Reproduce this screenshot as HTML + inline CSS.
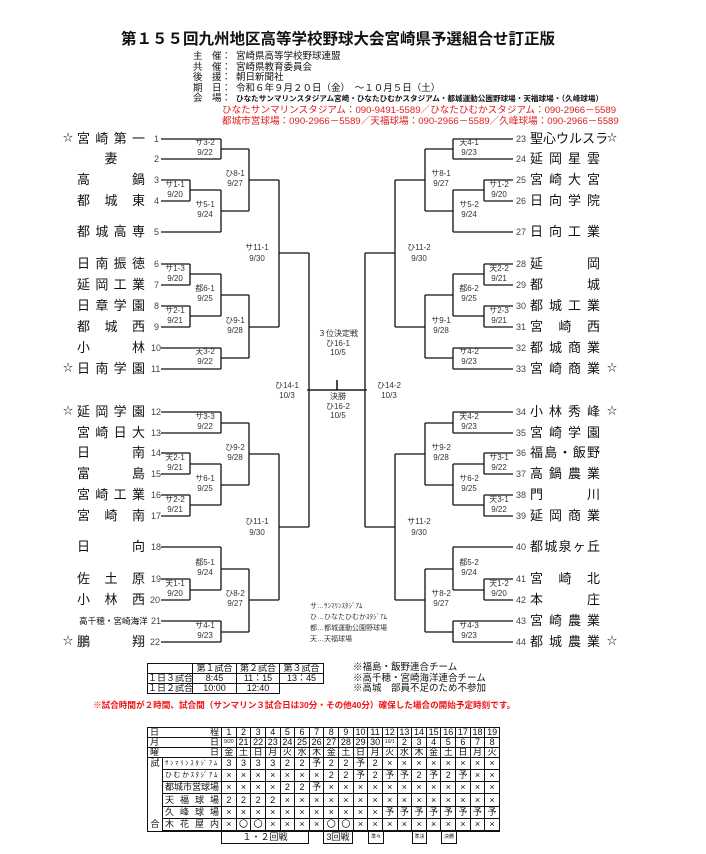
<!DOCTYPE html>
<html><head><meta charset="utf-8"><style>
*{margin:0;padding:0;box-sizing:border-box}
body{width:706px;height:854px;background:#fff;position:relative;overflow:hidden;font-family:"Liberation Sans","Noto Sans CJK JP",sans-serif;color:#111}
.a{position:absolute;white-space:nowrap}
.nm{position:absolute;height:16px;display:flex;justify-content:space-between;align-items:center;font-size:13px;line-height:16px;color:#111}
.no{position:absolute;font-size:9px;color:#444;line-height:10px}
.st{position:absolute;font-size:10px;line-height:12px}
table{border-collapse:collapse;table-layout:fixed;position:absolute}
td{border:1px solid #111;padding:0;text-align:center;font-size:9px;line-height:9px;overflow:hidden;white-space:nowrap}
.j{text-align:justify;text-align-last:justify;padding:0 2px}
.bx{position:absolute;border:1px solid #111;border-top:none;font-size:9px;text-align:center;line-height:10px}
</style></head><body>

<div class="a" style="left:121px;top:27px;font-size:15.5px;font-weight:bold;letter-spacing:0px">第１５５回九州地区高等学校野球大会宮崎県予選組合せ訂正版</div>
<div class="a" style="left:193px;top:52px;font-size:9.5px;line-height:10.6px">主　催：<br>共　催：<br>後　援：<br>期　日：<br>会　場：</div>
<div class="a" style="left:236px;top:52px;font-size:9.5px;line-height:10.6px">宮崎県高等学校野球連盟<br>宮崎県教育委員会<br>朝日新聞社<br>令和６年９月２０日（金）　～１０月５日（土）<br><b style="font-size:7.6px">ひなたサンマリンスタジアム宮崎・ひなたひむかスタジアム・都城運動公園野球場・天福球場・（久峰球場）</b></div>
<div class="a" style="left:222px;top:105px;font-size:9.6px;line-height:11px;color:#e02020">ひなたサンマリンスタジアム：090-9491-5589／ひなたひむかスタジアム：090-2966－5589<br>都城市営球場：090-2966－5589／天福球場：090-2966－5589／久峰球場：090-2966－5589</div>

<svg class="a" style="left:0;top:0" width="706" height="854" viewBox="0 0 706 854">
<g stroke="#111" stroke-width="1.3" fill="none">
<path id="L" d="M161 139H221M161 159H221M161 180H190M161 201H190M161 232H221M161 264H190M161 285H190M161 306H190M161 327H190M161 348H221M161 369H221
M161 412H221M161 433H221M161 453H190M161 474H190M161 495H190M161 516H190M161 547H221M161 579H190M161 600H190M161 621H221M161 642H221
M190 180V201M190 264V285M190 306V327M190 453V474M190 495V516M190 579V600
M190 190H221M190 274H221M190 316H221M190 464H221M190 505H221M190 590H221
M221 139V159M221 190V232M221 274V316M221 348V369M221 412V433M221 464V505M221 547V590M221 621V642
M221 149H249M221 211H249M221 295H249M221 358H249M221 423H249M221 485H249M221 569H249M221 632H249
M249 149V211M249 295V358M249 423V485M249 569V632
M249 180H279M249 327H279M249 454H279M249 600H279
M279 180V327M279 454V600M279 253H309M279 527H309M309 253V527M309 390H367M337 380V390"/>
<use href="#L" transform="translate(674,0) scale(-1,1)"/>
</g>
<g font-size="8" fill="#333" text-anchor="middle" font-family="Liberation Sans, Noto Sans CJK JP, sans-serif">
<text x="175" y="187">サ1-1</text><text x="175" y="197">9/20</text>
<text x="175" y="271">サ1-3</text><text x="175" y="281">9/20</text>
<text x="175" y="313">サ2-1</text><text x="175" y="323">9/21</text>
<text x="175" y="460">天2-1</text><text x="175" y="470">9/21</text>
<text x="175" y="502">サ2-2</text><text x="175" y="512">9/21</text>
<text x="175" y="586">天1-1</text><text x="175" y="596">9/20</text>
<text x="205" y="145">サ3-2</text><text x="205" y="155">9/22</text>
<text x="205" y="207">サ5-1</text><text x="205" y="217">9/24</text>
<text x="205" y="291">都6-1</text><text x="205" y="301">9/25</text>
<text x="205" y="354">天3-2</text><text x="205" y="364">9/22</text>
<text x="205" y="419">サ3-3</text><text x="205" y="429">9/22</text>
<text x="205" y="481">サ6-1</text><text x="205" y="491">9/25</text>
<text x="205" y="565">都5-1</text><text x="205" y="575">9/24</text>
<text x="205" y="628">サ4-1</text><text x="205" y="638">9/23</text>
<text x="235" y="176">ひ8-1</text><text x="235" y="186">9/27</text>
<text x="235" y="323">ひ9-1</text><text x="235" y="333">9/28</text>
<text x="235" y="450">ひ9-2</text><text x="235" y="460">9/28</text>
<text x="235" y="596">ひ8-2</text><text x="235" y="606">9/27</text>
<text x="257" y="250">サ11-1</text><text x="257" y="261">9/30</text>
<text x="257" y="524">ひ11-1</text><text x="257" y="535">9/30</text>
<text x="287" y="388">ひ14-1</text><text x="287" y="398">10/3</text>
<text x="389" y="388">ひ14-2</text><text x="389" y="398">10/3</text>
<text x="338" y="336">３位決定戦</text><text x="338" y="346">ひ16-1</text><text x="338" y="355">10/5</text>
<text x="338" y="399">決勝</text><text x="338" y="409">ひ16-2</text><text x="338" y="418">10/5</text>
<text x="499" y="187">サ1-2</text><text x="499" y="197">9/20</text>
<text x="499" y="271">天2-2</text><text x="499" y="281">9/21</text>
<text x="499" y="313">サ2-3</text><text x="499" y="323">9/21</text>
<text x="499" y="460">サ3-1</text><text x="499" y="470">9/22</text>
<text x="499" y="502">天3-1</text><text x="499" y="512">9/22</text>
<text x="499" y="586">天1-2</text><text x="499" y="596">9/20</text>
<text x="469" y="145">天4-1</text><text x="469" y="155">9/23</text>
<text x="469" y="207">サ5-2</text><text x="469" y="217">9/24</text>
<text x="469" y="291">都6-2</text><text x="469" y="301">9/25</text>
<text x="469" y="354">サ4-2</text><text x="469" y="364">9/23</text>
<text x="469" y="419">天4-2</text><text x="469" y="429">9/23</text>
<text x="469" y="481">サ6-2</text><text x="469" y="491">9/25</text>
<text x="469" y="565">都5-2</text><text x="469" y="575">9/24</text>
<text x="469" y="628">サ4-3</text><text x="469" y="638">9/23</text>
<text x="441" y="176">サ8-1</text><text x="441" y="186">9/27</text>
<text x="441" y="323">サ9-1</text><text x="441" y="333">9/28</text>
<text x="441" y="450">サ9-2</text><text x="441" y="460">9/28</text>
<text x="441" y="596">サ8-2</text><text x="441" y="606">9/27</text>
<text x="419" y="250">ひ11-2</text><text x="419" y="261">9/30</text>
<text x="419" y="524">サ11-2</text><text x="419" y="535">9/30</text>
</g>
<g font-size="7" fill="#333" font-family="Liberation Sans, Noto Sans CJK JP, sans-serif">
<text x="310" y="608">サ…ｻﾝﾏﾘﾝｽﾀｼﾞｱﾑ</text>
<text x="310" y="619">ひ…ひなたひむかｽﾀｼﾞｱﾑ</text>
<text x="310" y="630">都…都城運動公園野球場</text>
<text x="310" y="641">天…天福球場</text>
</g>
</svg>

<!-- left names -->
<div class="st" style="left:63px;top:133px">☆</div><div class="nm" style="left:77px;top:131px;width:68px"><span>宮</span><span>崎</span><span>第</span><span>一</span></div><div class="no" style="left:154px;top:134px">1</div>
<div class="nm" style="left:77px;top:151px;width:68px;justify-content:center"><span>妻</span></div><div class="no" style="left:154px;top:154px">2</div>
<div class="nm" style="left:77px;top:172px;width:68px"><span>高</span><span>鍋</span></div><div class="no" style="left:154px;top:175px">3</div>
<div class="nm" style="left:77px;top:193px;width:68px"><span>都</span><span>城</span><span>東</span></div><div class="no" style="left:154px;top:196px">4</div>
<div class="nm" style="left:77px;top:224px;width:68px"><span>都</span><span>城</span><span>高</span><span>専</span></div><div class="no" style="left:154px;top:227px">5</div>
<div class="nm" style="left:77px;top:256px;width:68px"><span>日</span><span>南</span><span>振</span><span>徳</span></div><div class="no" style="left:154px;top:259px">6</div>
<div class="nm" style="left:77px;top:277px;width:68px"><span>延</span><span>岡</span><span>工</span><span>業</span></div><div class="no" style="left:154px;top:280px">7</div>
<div class="nm" style="left:77px;top:298px;width:68px"><span>日</span><span>章</span><span>学</span><span>園</span></div><div class="no" style="left:154px;top:301px">8</div>
<div class="nm" style="left:77px;top:319px;width:68px"><span>都</span><span>城</span><span>西</span></div><div class="no" style="left:154px;top:322px">9</div>
<div class="nm" style="left:77px;top:340px;width:68px"><span>小</span><span>林</span></div><div class="no" style="left:151px;top:343px">10</div>
<div class="st" style="left:63px;top:363px">☆</div><div class="nm" style="left:77px;top:361px;width:68px"><span>日</span><span>南</span><span>学</span><span>園</span></div><div class="no" style="left:151px;top:364px">11</div>
<div class="st" style="left:63px;top:406px">☆</div><div class="nm" style="left:77px;top:404px;width:68px"><span>延</span><span>岡</span><span>学</span><span>園</span></div><div class="no" style="left:151px;top:407px">12</div>
<div class="nm" style="left:77px;top:425px;width:68px"><span>宮</span><span>崎</span><span>日</span><span>大</span></div><div class="no" style="left:151px;top:428px">13</div>
<div class="nm" style="left:77px;top:445px;width:68px"><span>日</span><span>南</span></div><div class="no" style="left:151px;top:448px">14</div>
<div class="nm" style="left:77px;top:466px;width:68px"><span>富</span><span>島</span></div><div class="no" style="left:151px;top:469px">15</div>
<div class="nm" style="left:77px;top:487px;width:68px"><span>宮</span><span>崎</span><span>工</span><span>業</span></div><div class="no" style="left:151px;top:490px">16</div>
<div class="nm" style="left:77px;top:508px;width:68px"><span>宮</span><span>崎</span><span>南</span></div><div class="no" style="left:151px;top:511px">17</div>
<div class="nm" style="left:77px;top:539px;width:68px"><span>日</span><span>向</span></div><div class="no" style="left:151px;top:542px">18</div>
<div class="nm" style="left:77px;top:571px;width:68px"><span>佐</span><span>土</span><span>原</span></div><div class="no" style="left:151px;top:574px">19</div>
<div class="nm" style="left:77px;top:592px;width:68px"><span>小</span><span>林</span><span>西</span></div><div class="no" style="left:150px;top:595px">20</div>
<div class="a" style="left:79px;top:615px;font-size:8.6px;line-height:12px">高千穂・宮崎海洋</div><div class="no" style="left:151px;top:616px">21</div>
<div class="st" style="left:63px;top:636px">☆</div><div class="nm" style="left:77px;top:634px;width:68px"><span>鵬</span><span>翔</span></div><div class="no" style="left:150px;top:637px">22</div>

<!-- right names -->
<div class="no" style="left:516px;top:134px">23</div><div class="nm" style="left:530px;top:131px;width:70px"><span>聖</span><span>心</span><span>ウ</span><span>ル</span><span>ス</span><span>ラ</span></div><div class="st" style="left:607px;top:133px">☆</div>
<div class="no" style="left:516px;top:154px">24</div><div class="nm" style="left:530px;top:151px;width:70px"><span>延</span><span>岡</span><span>星</span><span>雲</span></div>
<div class="no" style="left:516px;top:175px">25</div><div class="nm" style="left:530px;top:172px;width:70px"><span>宮</span><span>崎</span><span>大</span><span>宮</span></div>
<div class="no" style="left:516px;top:196px">26</div><div class="nm" style="left:530px;top:193px;width:70px"><span>日</span><span>向</span><span>学</span><span>院</span></div>
<div class="no" style="left:516px;top:227px">27</div><div class="nm" style="left:530px;top:224px;width:70px"><span>日</span><span>向</span><span>工</span><span>業</span></div>
<div class="no" style="left:516px;top:259px">28</div><div class="nm" style="left:530px;top:256px;width:70px"><span>延</span><span>岡</span></div>
<div class="no" style="left:516px;top:280px">29</div><div class="nm" style="left:530px;top:277px;width:70px"><span>都</span><span>城</span></div>
<div class="no" style="left:516px;top:301px">30</div><div class="nm" style="left:530px;top:298px;width:70px"><span>都</span><span>城</span><span>工</span><span>業</span></div>
<div class="no" style="left:516px;top:322px">31</div><div class="nm" style="left:530px;top:319px;width:70px"><span>宮</span><span>崎</span><span>西</span></div>
<div class="no" style="left:516px;top:343px">32</div><div class="nm" style="left:530px;top:340px;width:70px"><span>都</span><span>城</span><span>商</span><span>業</span></div>
<div class="no" style="left:516px;top:364px">33</div><div class="nm" style="left:530px;top:361px;width:70px"><span>宮</span><span>崎</span><span>商</span><span>業</span></div><div class="st" style="left:607px;top:363px">☆</div>
<div class="no" style="left:516px;top:407px">34</div><div class="nm" style="left:530px;top:404px;width:70px"><span>小</span><span>林</span><span>秀</span><span>峰</span></div><div class="st" style="left:607px;top:406px">☆</div>
<div class="no" style="left:516px;top:428px">35</div><div class="nm" style="left:530px;top:425px;width:70px"><span>宮</span><span>崎</span><span>学</span><span>園</span></div>
<div class="no" style="left:516px;top:448px">36</div><div class="nm" style="left:530px;top:445px;width:70px"><span>福</span><span>島</span><span>・</span><span>飯</span><span>野</span></div>
<div class="no" style="left:516px;top:469px">37</div><div class="nm" style="left:530px;top:466px;width:70px"><span>高</span><span>鍋</span><span>農</span><span>業</span></div>
<div class="no" style="left:516px;top:490px">38</div><div class="nm" style="left:530px;top:487px;width:70px"><span>門</span><span>川</span></div>
<div class="no" style="left:516px;top:511px">39</div><div class="nm" style="left:530px;top:508px;width:70px"><span>延</span><span>岡</span><span>商</span><span>業</span></div>
<div class="no" style="left:516px;top:542px">40</div><div class="nm" style="left:530px;top:539px;width:70px"><span>都</span><span>城</span><span>泉</span><span>ヶ</span><span>丘</span></div>
<div class="no" style="left:516px;top:574px">41</div><div class="nm" style="left:530px;top:571px;width:70px"><span>宮</span><span>崎</span><span>北</span></div>
<div class="no" style="left:516px;top:595px">42</div><div class="nm" style="left:530px;top:592px;width:70px"><span>本</span><span>庄</span></div>
<div class="no" style="left:516px;top:616px">43</div><div class="nm" style="left:530px;top:613px;width:70px"><span>宮</span><span>崎</span><span>農</span><span>業</span></div>
<div class="no" style="left:516px;top:637px">44</div><div class="nm" style="left:530px;top:634px;width:70px"><span>都</span><span>城</span><span>農</span><span>業</span></div><div class="st" style="left:607px;top:636px">☆</div>

<!-- small time table -->
<table style="left:147px;top:663px;width:176px;height:31px">
<colgroup><col style="width:45px"><col style="width:44px"><col style="width:43px"><col style="width:44px"></colgroup>
<tr><td></td><td>第１試合</td><td>第２試合</td><td>第３試合</td></tr>
<tr><td>１日３試合</td><td>8:45</td><td>11：15</td><td>13：45</td></tr>
<tr><td>１日２試合</td><td>10:00</td><td>12:40</td><td style="border:none"></td></tr>
</table>
<div class="a" style="left:353px;top:663px;font-size:9.5px;line-height:10.6px">※福島・飯野連合チーム<br>※高千穂・宮崎海洋連合チーム<br>※高城　部員不足のため不参加</div>
<div class="a" style="left:93px;top:699px;font-size:8.6px;font-weight:bold;color:#f01010">※試合時間が２時間、試合間（サンマリン３試合日は30分・その他40分）確保した場合の開始予定時刻です。</div>

<!-- schedule table -->
<table style="left:147px;top:727px;width:352px;height:105px">
<colgroup><col style="width:15px"><col style="width:59px"><col span="19" style="width:14.63px"></colgroup>
<tr><td colspan="2" class="j">日　程</td><td>1</td><td>2</td><td>3</td><td>4</td><td>5</td><td>6</td><td>7</td><td>8</td><td>9</td><td>10</td><td>11</td><td>12</td><td>13</td><td>14</td><td>15</td><td>16</td><td>17</td><td>18</td><td>19</td></tr>
<tr><td colspan="2" class="j">月　日</td><td style="font-size:5px">9/20</td><td>21</td><td>22</td><td>23</td><td>24</td><td>25</td><td>26</td><td>27</td><td>28</td><td>29</td><td>30</td><td style="font-size:5px">10/1</td><td>2</td><td>3</td><td>4</td><td>5</td><td>6</td><td>7</td><td>8</td></tr>
<tr><td colspan="2" class="j">曜　日</td><td>金</td><td>土</td><td>日</td><td>月</td><td>火</td><td>水</td><td>木</td><td>金</td><td>土</td><td>日</td><td>月</td><td>火</td><td>水</td><td>木</td><td>金</td><td>土</td><td>日</td><td>月</td><td>火</td></tr>
<tr><td rowspan="7" style="vertical-align:top;position:relative"><div style="display:flex;flex-direction:column;justify-content:space-between;height:72px;padding:1px 0">試<span>合</span></div></td><td class="j" style="font-size:6.5px">ｻﾝﾏﾘﾝｽﾀｼﾞｱﾑ</td><td>3</td><td>3</td><td>3</td><td>3</td><td>2</td><td>2</td><td>予</td><td>2</td><td>2</td><td>予</td><td>2</td><td>×</td><td>×</td><td>×</td><td>×</td><td>×</td><td>×</td><td>×</td><td>×</td></tr>
<tr><td class="j" style="font-size:7px">ひむかｽﾀｼﾞｱﾑ</td><td>×</td><td>×</td><td>×</td><td>×</td><td>×</td><td>×</td><td>×</td><td>2</td><td>2</td><td>予</td><td>2</td><td>予</td><td>予</td><td>2</td><td>予</td><td>2</td><td>予</td><td>×</td><td>×</td></tr>
<tr><td class="j">都城市営球場</td><td>×</td><td>×</td><td>×</td><td>×</td><td>2</td><td>2</td><td>予</td><td>×</td><td>×</td><td>×</td><td>×</td><td>×</td><td>×</td><td>×</td><td>×</td><td>×</td><td>×</td><td>×</td><td>×</td></tr>
<tr><td class="j">天福球場</td><td>2</td><td>2</td><td>2</td><td>2</td><td>×</td><td>×</td><td>×</td><td>×</td><td>×</td><td>×</td><td>×</td><td>×</td><td>×</td><td>×</td><td>×</td><td>×</td><td>×</td><td>×</td><td>×</td></tr>
<tr><td class="j">久峰球場</td><td>×</td><td>×</td><td>×</td><td>×</td><td>×</td><td>×</td><td>×</td><td>×</td><td>×</td><td>×</td><td>×</td><td>予</td><td>予</td><td>予</td><td>予</td><td>予</td><td>予</td><td>予</td><td>予</td></tr>
<tr><td class="j">木花屋内</td><td>×</td><td>〇</td><td>〇</td><td>×</td><td>×</td><td>×</td><td>×</td><td>〇</td><td>〇</td><td>×</td><td>×</td><td>×</td><td>×</td><td>×</td><td>×</td><td>×</td><td>×</td><td>×</td><td>×</td></tr>
<tr><td></td><td></td><td></td><td></td><td></td><td></td><td></td><td></td><td></td><td></td><td></td><td></td><td></td><td></td><td></td><td></td><td></td><td></td><td></td><td></td></tr>
</table>
<div class="bx" style="left:221px;top:832px;width:88px;height:12px">１・２回戦</div>
<div class="bx" style="left:323px;top:832px;width:30px;height:12px">3回戦</div>
<div class="bx" style="left:368px;top:832px;width:16px;height:12px;font-size:5px">準々</div>
<div class="bx" style="left:412px;top:832px;width:15px;height:12px;font-size:5px">準決</div>
<div class="bx" style="left:441px;top:832px;width:16px;height:12px;font-size:5px">決勝</div>
</body></html>
